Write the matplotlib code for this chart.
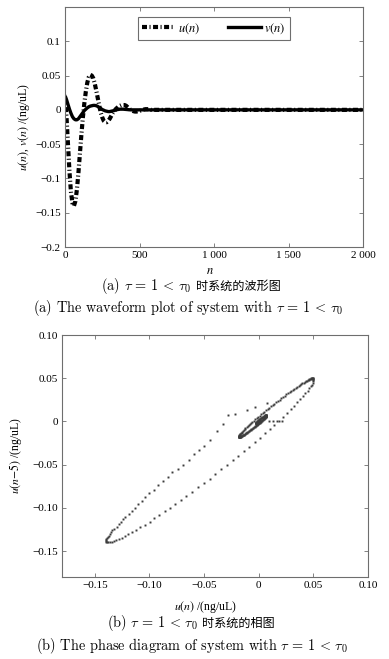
import matplotlib
matplotlib.use("Agg")
import matplotlib.pyplot as plt

plt.rcParams["font.family"] = ["Liberation Serif", "Noto Sans CJK SC"]
plt.rcParams["mathtext.fontset"] = "stix"
plt.rcParams["axes.unicode_minus"] = True

FRAME = "#6e6e6e"
DOT = "#3c3c3c"

# ---- (a) waveform, sampled every 10 steps up to n=600, then flat ----
n_wave = list(range(0, 610, 10)) + [700, 1000, 1500, 2000]
u_wave = [0.020, -0.010, -0.050, -0.090, -0.120, -0.136, -0.140, -0.133, -0.116, -0.092,
          -0.064, -0.036, -0.011, 0.010, 0.027, 0.040, 0.048, 0.051, 0.050, 0.046,
          0.038, 0.028, 0.017, 0.006, -0.004, -0.011, -0.016, -0.018, -0.018, -0.016,
          -0.013, -0.009, -0.005, -0.002, 0.001, 0.003, 0.005, 0.006, 0.007, 0.007,
          0.007, 0.006, 0.004, 0.002, 0.000, -0.001, -0.002, -0.0025, -0.0025, -0.002,
          -0.0015, -0.001, 0.0, 0.0005, 0.001, 0.001, 0.001, 0.0005, 0.0, 0.0,
          0.0, 0.0, 0.0, 0.0, 0.0]
v_wave = [0.020, 0.015, 0.008, 0.001, -0.005, -0.010, -0.013, -0.0145, -0.0145, -0.013,
          -0.010, -0.007, -0.004, -0.001, 0.001, 0.003, 0.0045, 0.0055, 0.006, 0.0065,
          0.0065, 0.006, 0.005, 0.0035, 0.002, 0.0005, -0.0005, -0.0015, -0.002, -0.0025,
          -0.0025, -0.002, -0.0015, -0.001, -0.0003, 0.0003, 0.0007, 0.001, 0.001, 0.001,
          0.0008, 0.0006, 0.0004, 0.0002, 0.0, 0.0, 0.0, 0.0, 0.0, 0.0,
          0.0, 0.0, 0.0, 0.0, 0.0, 0.0, 0.0, 0.0, 0.0, 0.0,
          0.0, 0.0, 0.0, 0.0, 0.0]

# ---- (b) phase diagram: u read per dot, plotted against itself delayed ----
PHASE_LAG = 4
u_phase = [
    # first fall
    0.021, 0.017, 0.013, 0.009, 0.008, -0.003, -0.011, -0.022, -0.028, -0.033,
    -0.038, -0.045, -0.050, -0.055, -0.059, -0.064, -0.069, -0.074, -0.079, -0.083,
    -0.088, -0.092, -0.096, -0.100, -0.104, -0.107, -0.110, -0.113, -0.116, -0.119,
    -0.122, -0.124, -0.126, -0.128, -0.130, -0.132, -0.134, -0.135, -0.136, -0.137,
    -0.138, -0.139, -0.1395,
    # rise to the peak
    -0.1400, -0.1399, -0.1394, -0.1387, -0.1376, -0.1363, -0.1347, -0.1328, -0.1306, -0.1281,
    -0.1254, -0.1225, -0.1193, -0.1158, -0.1122, -0.1083, -0.1042, -0.0999, -0.0955, -0.0910,
    -0.0862, -0.0814, -0.0764, -0.0713, -0.0661, -0.0609, -0.0556, -0.0503, -0.0450, -0.0397,
    -0.0344, -0.0291, -0.0239, -0.0187, -0.0136, -0.0087, -0.0038, 0.0010, 0.0055, 0.0100,
    0.0142, 0.0183, 0.0222, 0.0258, 0.0293, 0.0324, 0.0354, 0.0381, 0.0406, 0.0427,
    0.0447, 0.0463, 0.0476, 0.0487, 0.0494, 0.0499, 0.0500,
    # fall back
    0.0500, 0.0499, 0.0497, 0.0494, 0.0491, 0.0487, 0.0482, 0.0477, 0.0471, 0.0464,
    0.0457, 0.0449, 0.0441, 0.0431, 0.0422, 0.0411, 0.0400, 0.0389, 0.0377, 0.0365,
    0.0352, 0.0339, 0.0325, 0.0312, 0.0297, 0.0283, 0.0268, 0.0253, 0.0238, 0.0223,
    0.0207, 0.0191, 0.0176, 0.0160, 0.0144, 0.0129, 0.0113, 0.0098, 0.0082, 0.0067,
    0.0052, 0.0037, 0.0023, 0.0009, -0.0005, -0.0019, -0.0032, -0.0045, -0.0057, -0.0069,
    -0.0080, -0.0091, -0.0102, -0.0111, -0.0121, -0.0129, -0.0137, -0.0144, -0.0151, -0.0157,
    -0.0162, -0.0167, -0.0171, -0.0174, -0.0177, -0.0179, -0.0180, -0.0180,
    # inner loop
    -0.0180, -0.0179, -0.0179, -0.0178, -0.0176, -0.0175, -0.0173, -0.0170, -0.0168, -0.0165,
    -0.0162, -0.0159, -0.0155, -0.0152, -0.0148, -0.0143, -0.0139, -0.0134, -0.0129, -0.0124,
    -0.0119, -0.0114, -0.0108, -0.0103, -0.0097, -0.0091, -0.0085, -0.0079, -0.0073, -0.0067,
    -0.0061, -0.0055, -0.0049, -0.0043, -0.0037, -0.0031, -0.0025, -0.0019, -0.0013, -0.0007,
    -0.0002, 0.0004, 0.0009, 0.0014, 0.0019, 0.0024, 0.0029, 0.0033, 0.0038, 0.0042,
    0.0045, 0.0049, 0.0052, 0.0055, 0.0058, 0.0060, 0.0063, 0.0065, 0.0066, 0.0068,
    0.0069, 0.0069, 0.0070, 0.0070,
    0.0070, 0.0069, 0.0068, 0.0066, 0.0064, 0.0062, 0.0059, 0.0056, 0.0053, 0.0049,
    0.0045, 0.0041, 0.0036, 0.0032, 0.0027, 0.0023, 0.0018, 0.0013, 0.0009, 0.0004,
    0.0000, -0.0004, -0.0007, -0.0011, -0.0014, -0.0016, -0.0019, -0.0021, -0.0022, -0.0024,
    -0.0025, -0.0025,
    # settling
    -0.0025, -0.0024, -0.0022, -0.0020, -0.0017, -0.0014, -0.0010, -0.0007, -0.0004, -0.0001,
    0.0002, 0.0004, 0.0006, 0.0008, 0.0009, 0.0010, 0.0010, 0.0009, 0.0008, 0.0007,
    0.0005, 0.0003, 0.0002, 0.0001, 0.0, 0.0,
]

a_yticks = [-0.2, -0.15, -0.1, -0.05, 0, 0.05, 0.1]
a_ylabels = ["\u22120.2", "\u22120.15", "\u22120.1", "\u22120.05", "0", "0.05", "0.1"]
a_xticks = [0, 500, 1000, 1500, 2000]
a_xlabels = ["0", "500", "1 000", "1 500", "2 000"]
b_ticks = [-0.15, -0.10, -0.05, 0, 0.05, 0.10]
b_labels = ["\u22120.15", "\u22120.10", "\u22120.05", "0", "0.05", "0.10"]

W, H = 389, 659


def _frame(ax):
    for s in ax.spines.values():
        s.set_color(FRAME)
        s.set_linewidth(0.8)
    ax.tick_params(direction="in", length=3, width=0.6, color=FRAME,
                   top=True, right=True, labelsize=8, pad=3)


def _caption(fig, y_px, pieces, cx_px=191):
    """pieces: list of (text, kwargs, gap_px); laid out on one baseline, centred"""
    texts = [fig.text(0, 1 - y_px / H, s, va="baseline", ha="left", **kw) for s, kw, g in pieces]
    fig.canvas.draw()
    r = fig.canvas.get_renderer()
    widths = [t.get_window_extent(r).width + g for t, (s, kw, g) in zip(texts, pieces)]
    x = cx_px - sum(widths) / 2
    for t, w, (s, kw, g) in zip(texts, widths, pieces):
        t.set_x((x + g) / W)
        x += w


fig = plt.figure(figsize=(W / 100, H / 100), dpi=100)

# ---------------- (a) ----------------
ax1 = fig.add_axes([65 / W, 1 - 247 / H, 298 / W, 240 / H])
ax1.plot(n_wave, u_wave, color="black", lw=3.0, linestyle=(0, (1.2, 0.6, 0.25, 0.6)),
         label="$u(n)$")
ax1.plot(n_wave, v_wave, color="black", lw=2.4, label="$v(n)$")
ax1.set_xlim(0, 2000)
ax1.set_ylim(-0.2, 0.15)
ax1.set_xticks(a_xticks)
ax1.set_xticklabels(a_xlabels)
ax1.set_yticks(a_yticks)
ax1.set_yticklabels(a_ylabels)
_frame(ax1)
ax1.set_xlabel("$n$", fontsize=9, labelpad=1)
ax1.xaxis.set_label_coords(0.485, -0.075)
ax1.set_ylabel("$u(n)$, $v(n)$ /(ng/uL)", fontsize=8.5, labelpad=2)
leg = ax1.legend(loc="upper center", bbox_to_anchor=(0.5, 0.985), ncol=2, fontsize=9,
                 frameon=True, fancybox=False, edgecolor=FRAME, framealpha=1,
                 handlelength=2.6, columnspacing=2.2, handletextpad=0.3,
                 borderpad=0.35)
leg.get_frame().set_linewidth(0.8)

# ---------------- (b) ----------------
ax2 = fig.add_axes([62 / W, 1 - 577 / H, 306 / W, 242 / H])
ph_x = u_phase
ph_y = [0.0] * PHASE_LAG + u_phase[:-PHASE_LAG]
ax2.plot(ph_x, ph_y, "s", color=DOT, ms=1.4, mew=0)
ax2.set_xlim(-0.18, 0.10)
ax2.set_ylim(-0.18, 0.10)
ax2.set_xticks(b_ticks)
ax2.set_xticklabels(b_labels)
ax2.set_yticks(b_ticks)
ax2.set_yticklabels(b_labels)
_frame(ax2)
ax2.set_xlabel("$u(n)$ /(ng/uL)", fontsize=8.5, labelpad=2)
ax2.xaxis.set_label_coords(0.47, -0.09)
ax2.set_ylabel("$u(n{-}5)$ /(ng/uL)", fontsize=8.5, labelpad=6)

# ---------------- captions ----------------
cm = dict(fontfamily="cmr10", fontsize=10.3, math_fontfamily="cm")
cjk = dict(fontfamily="Noto Sans CJK SC", fontsize=8.7)
tau = r"$\tau\,=\,1\,<\,\tau_0$"
_caption(fig, 290, [("(a) " + tau, cm, 0), ("时系统的波形图", cjk, 5)])
_caption(fig, 312, [("(a) The waveform plot of system with " + tau, cm, 0)], 188)
_caption(fig, 627, [("(b) " + tau, cm, 0), ("时系统的相图", cjk, 5)])
_caption(fig, 650, [("(b) The phase diagram of system with " + tau, cm, 0)], 192)

fig.savefig("out.png", dpi=100, facecolor="white")
plt.close(fig)
